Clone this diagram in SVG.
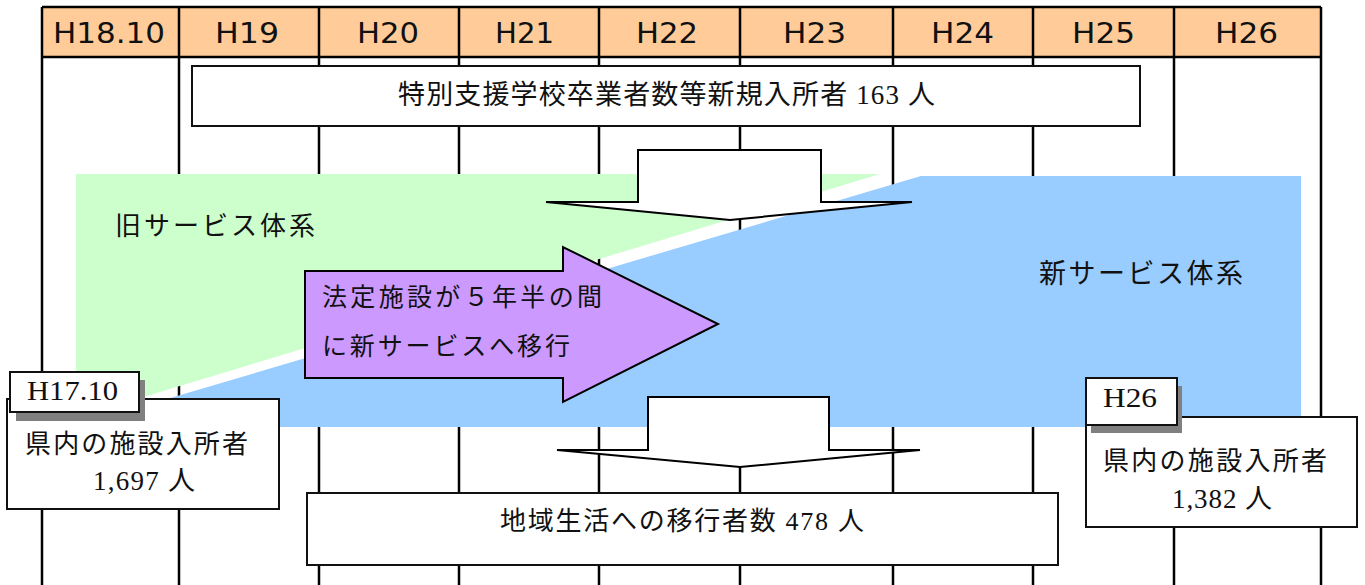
<svg xmlns="http://www.w3.org/2000/svg" width="1365" height="585" viewBox="0 0 1365 585">
<style>
.grid{stroke:#000;stroke-width:2.5;fill:none}
.hdr{font-family:"DejaVu Sans","Noto Sans CJK JP",sans-serif;font-size:28px;fill:#111}
.jp{font-family:"Liberation Serif","Noto Sans CJK JP",sans-serif;fill:#111}
.box{fill:#fff;stroke:#111;stroke-width:2}
.shadow{fill:#808080}
.arr{fill:#fff;stroke:#000;stroke-width:2;stroke-linejoin:miter}
</style>
<rect width="1365" height="585" fill="#fff"/>
<g id="grid">
<rect x="42" y="7" width="1279" height="50" fill="#FFCC99"/>
<path class="grid" d="M42,7H1321M42,57H1321M42,7V585M179,7V585M319,7V585M459,7V585M599,7V585M740,7V585M893,7V585M1033,7V585M1174,7V585M1321,7V585"/>
<text class="hdr" x="53" y="43" textLength="112" lengthAdjust="spacingAndGlyphs">H18.10</text>
<text class="hdr" x="215" y="43" textLength="64" lengthAdjust="spacingAndGlyphs">H19</text>
<text class="hdr" x="357" y="43" textLength="62" lengthAdjust="spacingAndGlyphs">H20</text>
<text class="hdr" x="495" y="43" textLength="59" lengthAdjust="spacingAndGlyphs">H21</text>
<text class="hdr" x="636" y="43" textLength="62" lengthAdjust="spacingAndGlyphs">H22</text>
<text class="hdr" x="783" y="43" textLength="63" lengthAdjust="spacingAndGlyphs">H23</text>
<text class="hdr" x="931" y="43" textLength="63" lengthAdjust="spacingAndGlyphs">H24</text>
<text class="hdr" x="1072" y="43" textLength="63" lengthAdjust="spacingAndGlyphs">H25</text>
<text class="hdr" x="1215" y="43" textLength="63" lengthAdjust="spacingAndGlyphs">H26</text>
</g>
<g id="new-entrants">
<rect class="box" x="192" y="66" width="948" height="60"/>
<text class="jp" x="398" y="104" font-size="27" textLength="537" lengthAdjust="spacing">特別支援学校卒業者数等新規入所者 163 人</text>
</g>
<g id="old-system">
<polygon points="76,174 880,174 140,398 76,398" fill="#CCFFCC"/>
<text class="jp" x="115" y="235" font-size="26" textLength="200" lengthAdjust="spacing">旧サービス体系</text>
</g>
<g id="new-system">
<polygon points="921,176 1301,176 1301,427 150,427 150,404" fill="#99CCFF"/>
<text class="jp" x="1039" y="283" font-size="27" textLength="204" lengthAdjust="spacing">新サービス体系</text>
</g>
<g id="connectors">
<path class="arr" d="M638,150H821V202H912L730,220L546,202H638Z"/>
<path class="arr" d="M648,397H829V450H920L740,467L557,450H648Z"/>
</g>
<g id="transition">
<path d="M305,271H563V247L718,324L563,402V378H305Z" fill="#CC99FF" stroke="#000" stroke-width="2"/>
<text class="jp" x="322" y="306" font-size="25" textLength="280" lengthAdjust="spacing">法定施設が５年半の間</text>
<text class="jp" x="322" y="355" font-size="25" textLength="248" lengthAdjust="spacing">に新サービスへ移行</text>
</g>
<g id="h17-box">
<rect class="box" x="7" y="399" width="272" height="110"/>
<rect class="shadow" x="16" y="380" width="129" height="41"/>
<rect class="box" x="10" y="372" width="129" height="40"/>
<text class="jp" x="27" y="400" font-size="27" textLength="91" lengthAdjust="spacingAndGlyphs">H17.10</text>
<text class="jp" x="25" y="453" font-size="26" textLength="223" lengthAdjust="spacing">県内の施設入所者</text>
<text class="jp" x="93" y="490" font-size="27" textLength="102" lengthAdjust="spacing">1,697 人</text>
</g>
<g id="h26-box">
<rect class="box" x="1086" y="417" width="271" height="110"/>
<rect class="shadow" x="1091" y="386" width="91" height="47"/>
<rect class="box" x="1086" y="378" width="91" height="47"/>
<text class="jp" x="1103" y="407" font-size="27" textLength="54" lengthAdjust="spacingAndGlyphs">H26</text>
<text class="jp" x="1103" y="470" font-size="26" textLength="224" lengthAdjust="spacing">県内の施設入所者</text>
<text class="jp" x="1172" y="508" font-size="27" textLength="100" lengthAdjust="spacing">1,382 人</text>
</g>
<g id="community">
<rect class="box" x="307" y="493" width="751" height="72"/>
<text class="jp" x="500" y="530" font-size="26" textLength="364" lengthAdjust="spacing">地域生活への移行者数 478 人</text>
</g>
</svg>
